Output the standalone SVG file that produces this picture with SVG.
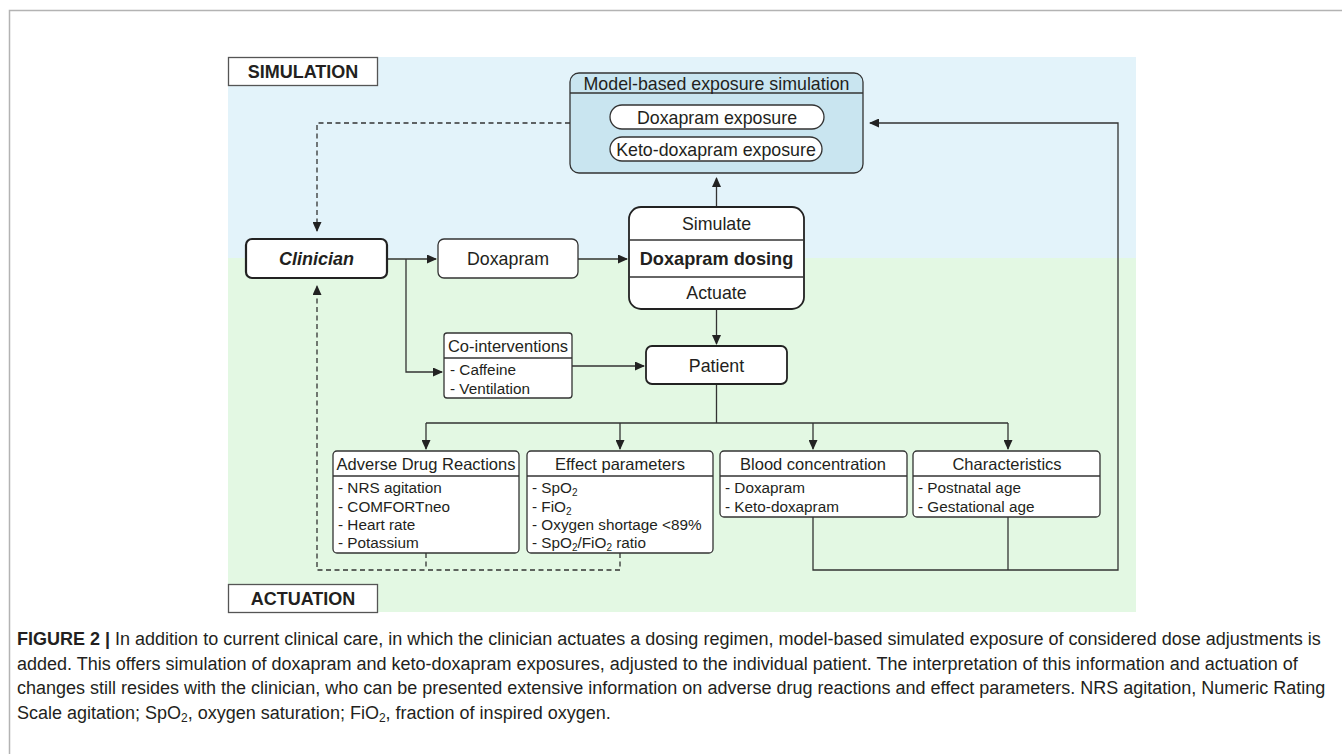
<svg xmlns="http://www.w3.org/2000/svg" width="1342" height="754" viewBox="0 0 1342 754">
<style>
text{font-family:"Liberation Sans",Arial,sans-serif;fill:#231f20}
.t{font-size:16.5px}
.i{font-size:15.3px}
.m{font-size:17.8px}
.c{text-anchor:middle}
.box{fill:#fff;stroke:#333;stroke-width:1.3}
.ln{stroke:#333;stroke-width:1.3;fill:none}
.dash{stroke:#333;stroke-width:1.3;fill:none;stroke-dasharray:5 3.5}
.cap{font-size:18px;fill:#231f20}
</style>
<defs>
<marker id="ah" markerUnits="userSpaceOnUse" markerWidth="10" markerHeight="9" refX="9" refY="4.5" orient="auto">
<path d="M0,0 L10,4.5 L0,9 z" fill="#222"/>
</marker>
</defs>
<rect width="1342" height="754" fill="#fff"/>
<path d="M9.5,754 V10.5 H1342" fill="none" stroke="#b3b3b3" stroke-width="1.5"/>
<rect x="228" y="57" width="908" height="201" fill="#e3f3fa"/>
<rect x="228" y="258" width="908" height="354" fill="#e3f8e3"/>

<g id="label-simulation">
<rect x="228.5" y="57.5" width="149" height="28" fill="#fff" stroke="#555" stroke-width="1.3"/>
<text x="303" y="78" class="c" font-size="18" font-weight="bold">SIMULATION</text>
</g>
<g id="label-actuation">
<rect x="228.5" y="584.5" width="149" height="28" fill="#fff" stroke="#555" stroke-width="1.3"/>
<text x="303" y="605" class="c" font-size="18" font-weight="bold">ACTUATION</text>
</g>

<g id="connectors">
<path class="dash" d="M570,123 H317 V231" marker-end="url(#ah)"/>
<path class="ln" d="M387,259 H436" marker-end="url(#ah)"/>
<path class="ln" d="M406,259 V372 H442" marker-end="url(#ah)"/>
<path class="ln" d="M578,259 H627" marker-end="url(#ah)"/>
<path class="ln" d="M716.5,207 V178" marker-end="url(#ah)"/>
<path class="ln" d="M716.5,309 V344" marker-end="url(#ah)"/>
<path class="ln" d="M572,366 H644" marker-end="url(#ah)"/>
<path class="ln" d="M716.5,384 V423 M426,423 H1008"/>
<path class="ln" d="M426,423 V449" marker-end="url(#ah)"/>
<path class="ln" d="M620,423 V449" marker-end="url(#ah)"/>
<path class="ln" d="M813,423 V449" marker-end="url(#ah)"/>
<path class="ln" d="M1008,423 V449" marker-end="url(#ah)"/>
<path class="dash" d="M426,553 V570"/>
<path class="dash" d="M620,553 V570 H317 V286" marker-end="url(#ah)"/>
<path class="ln" d="M1008,517 V570"/>
<path class="ln" d="M813,517 V570 H1118 V123 H870" marker-end="url(#ah)"/>
</g>

<g id="model-sim">
<rect x="570" y="73" width="293" height="100" rx="9" fill="#c9e5f0" stroke="#333" stroke-width="1.3"/>
<line x1="570" y1="93" x2="863" y2="93" class="ln"/>
<text x="716.5" y="89.5" class="m c">Model-based exposure simulation</text>
<rect x="610" y="105" width="214" height="24" rx="12" class="box"/>
<text x="717" y="123.5" class="m c">Doxapram exposure</text>
<rect x="610" y="137" width="212" height="24" rx="12" class="box"/>
<text x="716" y="155.5" class="m c">Keto-doxapram exposure</text>
</g>

<g id="clinician">
<rect x="246" y="239" width="141" height="39" rx="6" fill="#fff" stroke="#222" stroke-width="2.2"/>
<text x="316.5" y="265" class="c" font-size="18" font-weight="bold" font-style="italic">Clinician</text>
</g>

<g id="doxapram">
<rect x="438" y="239" width="140" height="39" rx="6" class="box"/>
<text x="508" y="265" class="m c">Doxapram</text>
</g>

<g id="dosing">
<rect x="629" y="207" width="175" height="102" rx="12" fill="#fff" stroke="#222" stroke-width="1.8"/>
<line x1="629" y1="240" x2="804" y2="240" class="ln"/>
<line x1="629" y1="277" x2="804" y2="277" class="ln"/>
<text x="716.5" y="230" class="m c">Simulate</text>
<text x="716.5" y="265" class="c" font-size="18.2" font-weight="bold">Doxapram dosing</text>
<text x="716.5" y="299" class="m c">Actuate</text>
</g>

<g id="patient">
<rect x="646" y="346" width="141" height="38" rx="6" fill="#fff" stroke="#222" stroke-width="1.8"/>
<text x="716.5" y="371.5" class="m c">Patient</text>
</g>

<g id="cointerventions">
<rect x="444" y="333" width="128" height="65" rx="3" class="box"/>
<line x1="444" y1="358" x2="572" y2="358" class="ln"/>
<text x="508" y="352" class="t c">Co-interventions</text>
<text x="450" y="375" class="i">- Caffeine</text>
<text x="450" y="394" class="i">- Ventilation</text>
</g>

<g id="adr">
<rect x="333" y="451" width="186" height="102" rx="4" class="box"/>
<line x1="333" y1="476" x2="519" y2="476" class="ln"/>
<text x="426" y="470" class="t c">Adverse Drug Reactions</text>
<text x="338" y="493" class="i">- NRS agitation</text>
<text x="338" y="511.5" class="i">- COMFORTneo</text>
<text x="338" y="530" class="i">- Heart rate</text>
<text x="338" y="548" class="i">- Potassium</text>
</g>

<g id="effect">
<rect x="527" y="451" width="186" height="102" rx="4" class="box"/>
<line x1="527" y1="476" x2="713" y2="476" class="ln"/>
<text x="620" y="470" class="t c">Effect parameters</text>
<text x="532" y="493" class="i">- SpO<tspan font-size="10" dy="3">2</tspan></text>
<text x="532" y="511.5" class="i">- FiO<tspan font-size="10" dy="3">2</tspan></text>
<text x="532" y="530" class="i">- Oxygen shortage &lt;89%</text>
<text x="532" y="548" class="i">- SpO<tspan font-size="10" dy="3">2</tspan><tspan dy="-3">/FiO</tspan><tspan font-size="10" dy="3">2</tspan><tspan dy="-3"> ratio</tspan></text>
</g>

<g id="blood">
<rect x="720" y="451" width="187" height="66" rx="4" class="box"/>
<line x1="720" y1="476" x2="907" y2="476" class="ln"/>
<text x="813" y="470" class="t c">Blood concentration</text>
<text x="725" y="493" class="i">- Doxapram</text>
<text x="725" y="511.5" class="i">- Keto-doxapram</text>
</g>

<g id="characteristics">
<rect x="913" y="451" width="187" height="66" rx="4" class="box"/>
<line x1="913" y1="476" x2="1100" y2="476" class="ln"/>
<text x="1007" y="470" class="t c">Characteristics</text>
<text x="918" y="493" class="i">- Postnatal age</text>
<text x="918" y="511.5" class="i">- Gestational age</text>
</g>

<g id="caption">
<text x="17" y="645" class="cap"><tspan font-weight="bold">FIGURE 2 |</tspan> In addition to current clinical care, in which the clinician actuates a dosing regimen, model-based simulated exposure of considered dose adjustments is</text>
<text x="17" y="670" class="cap">added. This offers simulation of doxapram and keto-doxapram exposures, adjusted to the individual patient. The interpretation of this information and actuation of</text>
<text x="17" y="694" class="cap">changes still resides with the clinician, who can be presented extensive information on adverse drug reactions and effect parameters. NRS agitation, Numeric Rating</text>
<text x="17" y="719" class="cap">Scale agitation; SpO<tspan font-size="12" dy="3">2</tspan><tspan dy="-3">, oxygen saturation; FiO</tspan><tspan font-size="12" dy="3">2</tspan><tspan dy="-3">, fraction of inspired oxygen.</tspan></text>
</g>
</svg>
